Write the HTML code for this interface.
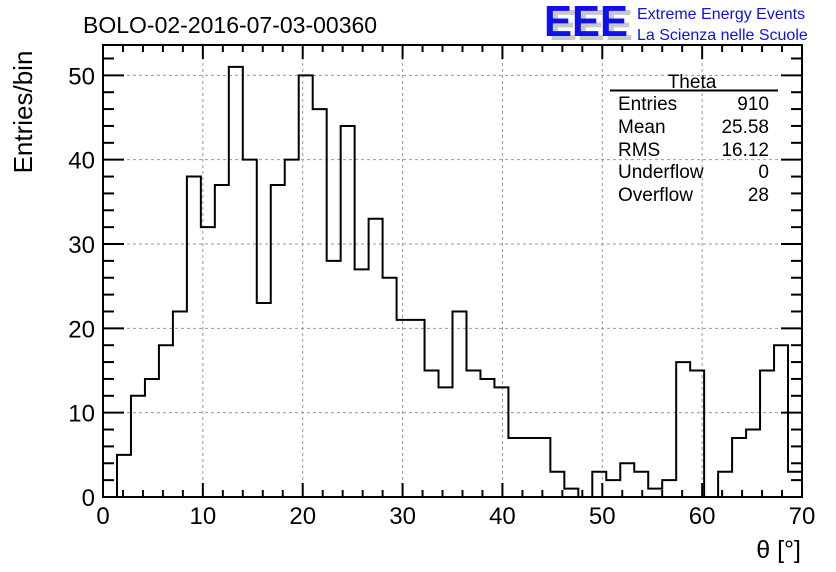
<!DOCTYPE html>
<html><head><meta charset="utf-8"><style>
html,body{margin:0;padding:0;background:#fff;}
svg{display:block;font-family:"Liberation Sans",Arial,sans-serif;}
</style></head><body>
<svg id="chart" width="836" height="572" viewBox="0 0 836 572">
<rect width="836" height="572" fill="#fff"/>
<g id="grid"></g>
<g id="hist"></g>
<g id="axes"></g>
<text x="83" y="33" font-size="23">BOLO-02-2016-07-03-00360</text>
<g>
<text x="549" y="40" font-size="44" font-weight="bold" fill="#c8c8c8" textLength="84" lengthAdjust="spacingAndGlyphs">EEE</text>
<text x="544" y="36" font-size="44" font-weight="bold" fill="#1010ee" textLength="84" lengthAdjust="spacingAndGlyphs">EEE</text>
<text x="637" y="19" font-size="16" fill="#1010ee">Extreme Energy Events</text>
<text x="637" y="40" font-size="16" fill="#1010ee">La Scienza nelle Scuole</text>
</g>
<g font-size="19">
<text x="692" y="88" text-anchor="middle">Theta</text>
<line x1="610" y1="90.5" x2="778" y2="90.5" stroke="#000" stroke-width="2"/>
<text x="618" y="110">Entries</text><text x="769" y="110" text-anchor="end">910</text>
<text x="618" y="133">Mean</text><text x="769" y="133" text-anchor="end">25.58</text>
<text x="618" y="156">RMS</text><text x="769" y="156" text-anchor="end">16.12</text>
<text x="618" y="178">Underflow</text><text x="769" y="178" text-anchor="end">0</text>
<text x="618" y="201">Overflow</text><text x="769" y="201" text-anchor="end">28</text>
</g>
<text transform="translate(32,112) rotate(-90)" text-anchor="middle" font-size="26">Entries/bin</text>
<text x="801" y="558" text-anchor="end" font-size="25">θ [°]</text>
</svg>
<script>
const counts = [0,5,12,14,18,22,38,32,37,51,40,23,37,40,50,46,28,44,27,33,26,21,21,15,13,22,15,14,13,7,7,7,3,1,0,3,2,4,3,1,2,16,15,0,3,7,8,15,18,3];
const xTicks = [0,10,20,30,40,50,60,70];
const yTicks = [0,10,20,30,40,50];
const xMin=0,xMax=70,yMin=0,yMax=53.6;
const L=103,R=802,T=45,B=497;
const NS="http://www.w3.org/2000/svg";
function X(v){return L+(v-xMin)/(xMax-xMin)*(R-L);}
function Y(v){return B-(v-yMin)/(yMax-yMin)*(B-T);}
function mk(tag,attrs,parent){const e=document.createElementNS(NS,tag);for(const k in attrs)e.setAttribute(k,attrs[k]);parent.appendChild(e);return e;}
const grid=document.getElementById('grid'),axes=document.getElementById('axes'),hist=document.getElementById('hist');
xTicks.forEach(t=>{if(t>xMin&&t<xMax){const l=mk('line',{x1:X(t),x2:X(t),y1:T,y2:B,stroke:'#999','stroke-dasharray':'3,3','stroke-width':1},grid);

}});
yTicks.forEach(t=>{if(t>yMin){const l=mk('line',{x1:L,x2:R,y1:Y(t),y2:Y(t),stroke:'#999','stroke-dasharray':'3,3','stroke-width':1},grid);

}});
const bw=(xMax-xMin)/counts.length;
let d='M'+X(0)+','+Y(0);
counts.forEach((c,i)=>{d+=' L'+X(i*bw)+','+Y(c)+' L'+X((i+1)*bw)+','+Y(c);});
d+=' L'+X(xMax)+','+Y(0);
const hp=mk('path',{d:d,fill:'none',stroke:'#000','stroke-width':2},hist);


const fr=mk('rect',{x:L,y:T,width:R-L,height:B-T,fill:'none',stroke:'#000','stroke-width':2},axes);


for(let v=xMin;v<=xMax;v+=2){const major=v%10===0;const len=major?14:7;
mk('line',{x1:X(v),x2:X(v),y1:B,y2:B-len,stroke:'#000','stroke-width':2},axes);
mk('line',{x1:X(v),x2:X(v),y1:T,y2:T+len,stroke:'#000','stroke-width':2},axes);}
xTicks.forEach(t=>{const tx=mk('text',{x:X(t),y:B+27,'text-anchor':'middle','font-size':24},axes);tx.textContent=t;

});
for(let v=yMin;v<=yMax;v+=2){const major=v%10===0;const len=major?21:11;
mk('line',{x1:L,x2:L+len,y1:Y(v),y2:Y(v),stroke:'#000','stroke-width':2},axes);
mk('line',{x1:R,x2:R-len,y1:Y(v),y2:Y(v),stroke:'#000','stroke-width':2},axes);}
yTicks.forEach(t=>{const tx=mk('text',{x:L-8,y:Y(t)+9,'text-anchor':'end','font-size':24},axes);tx.textContent=t;

});
</script>
</body></html>
